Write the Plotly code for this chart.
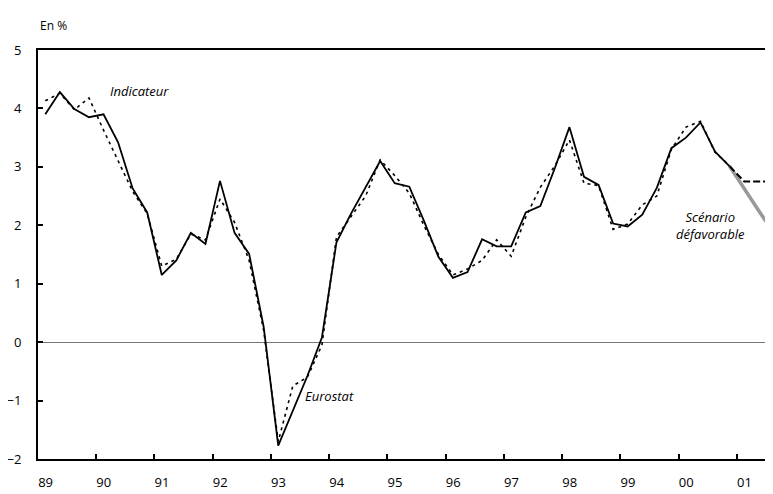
import plotly.graph_objects as go

# trimestres 1989T1 .. 2000T4
quarters = [f"{y}T{q}" for y in range(1989, 2001) for q in range(1, 5)]

eurostat = [3.90, 4.28, 3.99, 3.85, 3.90, 3.42, 2.63, 2.22,
            1.15, 1.40, 1.87, 1.68, 2.76, 1.87, 1.51, 0.26,
            -1.77, -1.18, -0.58, 0.08, 1.71, 2.20, 2.64, 3.10,
            2.72, 2.66, 2.08, 1.46, 1.10, 1.20, 1.76, 1.64,
            1.64, 2.22, 2.33, 2.98, 3.68, 2.83, 2.69, 2.03,
            1.98, 2.18, 2.64, 3.32, 3.50, 3.76, 3.26, 3.01]

indicateur = [4.13, 4.26, 3.98, 4.18, 3.63, 3.11, 2.58, 2.20,
              1.30, 1.42, 1.85, 1.75, 2.45, 2.05, 1.40, 0.20,
              -1.70, -0.75, -0.60, -0.05, 1.80, 2.15, 2.50, 3.12,
              2.85, 2.55, 2.00, 1.50, 1.15, 1.25, 1.40, 1.75,
              1.47, 2.14, 2.65, 3.02, 3.46, 2.72, 2.68, 1.93,
              2.02, 2.35, 2.50, 3.30, 3.68, 3.78, 3.25, 3.02]

# projections 2000T4 .. 2001T3
proj_quarters = ["2000T4", "2001T1", "2001T2", "2001T3"]
central = [3.01, 2.75, 2.75, 2.75]
defavorable = [3.01, 2.62, 2.25, 1.88]

year_ticks = list(range(1989, 2002))
year_labels = [f"{y % 100:02d}" for y in year_ticks]


def qpos(lbl):
    y, q = lbl.split("T")
    return int(y) + (int(q) - 0.5) / 4


x_hist = [qpos(q) for q in quarters]
x_proj = [qpos(q) for q in proj_quarters]

FONT = "Open Sans, Noto Sans, DejaVu Sans, sans-serif"
XRANGE = [1989, 2001.62]

fig = go.Figure()
fig.add_trace(go.Scatter(x=x_hist, y=indicateur, mode="lines",
                         line=dict(color="black", width=1.6, dash="3px,4px")))
fig.add_trace(go.Scatter(x=x_hist, y=eurostat, mode="lines",
                         line=dict(color="black", width=1.8)))
# projections sur l'axe x2 (même échelle, porte les libellés d'années)
fig.add_trace(go.Scatter(x=x_proj, y=defavorable, mode="lines", xaxis="x2",
                         line=dict(color="#999999", width=3.5)))
fig.add_trace(go.Scatter(x=x_proj, y=central, mode="lines", xaxis="x2",
                         line=dict(color="black", width=2, dash="7px,3px")))

# la page ajoute une marge de 8 px autour du graphique
fig.update_layout(
    width=765, height=486,
    margin=dict(l=30, r=0, t=42, b=35),
    paper_bgcolor="white", plot_bgcolor="white",
    showlegend=False,
    font=dict(family=FONT, size=13, color="black"),
    xaxis=dict(
        range=XRANGE, automargin=False,
        tickmode="array", tickvals=year_ticks, showticklabels=False,
        ticks="inside", ticklen=5, tickwidth=1.5, tickcolor="black",
        showgrid=False, zeroline=False,
        showline=True, linecolor="black", linewidth=2, mirror=True,
    ),
    xaxis2=dict(
        range=XRANGE, automargin=False, overlaying="x", side="bottom",
        anchor="y", tickmode="array",
        tickvals=[y + 0.13 for y in year_ticks], ticktext=year_labels,
        ticks="", showgrid=False, zeroline=False, showline=False,
        ticklabelstandoff=14,
    ),
    yaxis=dict(
        range=[-2, 5], dtick=1, tick0=0, automargin=False,
        ticks="inside", ticklen=5, tickwidth=1.5, tickcolor="black",
        showgrid=False, showline=True, linecolor="black", linewidth=2,
        zeroline=True, zerolinecolor="#777777", zerolinewidth=1,
        ticklabelstandoff=12,
    ),
    annotations=[
        dict(text="En %", xref="paper", yref="paper", x=0, y=1.061,
             xanchor="left", yanchor="middle", showarrow=False,
             font=dict(size=12)),
        dict(text="<i>Indicateur</i>", xref="x", yref="y", x=1990.75, y=4.3,
             xanchor="center", yanchor="middle", showarrow=False),
        dict(text="<i>Eurostat</i>", xref="x", yref="y", x=1994.0, y=-0.93,
             xanchor="center", yanchor="middle", showarrow=False),
        dict(text="<i>Scénario<br>défavorable</i>", xref="x", yref="y",
             x=2000.55, y=1.99, xanchor="center", yanchor="middle",
             showarrow=False),
    ],
)

fig.write_html("out.html")
